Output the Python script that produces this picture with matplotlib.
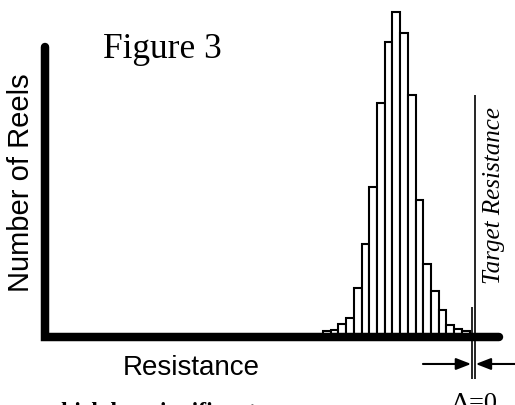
import numpy as np
import matplotlib
matplotlib.use("Agg")
import matplotlib.pyplot as plt

# Histogram of reel resistance (bin centres, arbitrary units) and counts
resistance_bins = [36.5, 37.5, 38.5, 39.5, 40.5, 41.5, 42.5, 43.5, 44.5, 45.5,
                   46.5, 47.5, 48.5, 49.5, 50.5, 51.5, 52.5, 53.5, 54.5]
reel_counts = [6, 7.5, 13.5, 19.5, 49, 93, 150, 234, 296, 326,
               305, 242, 137, 73, 46, 27.5, 12, 8, 6]

target_resistance = 55.7   # thin "Target Resistance" line
upper_edge = 55.25         # edge of the distribution, offset shown as delta

title_text = "Figure 3"
ylabel_text = "Number of Reels"
xlabel_text = "Resistance"
target_text = "Target Resistance"
delta_text = "\u0394=0"
body_text = "which has significant"


def plot_histogram():
    fig = plt.figure(figsize=(5.15, 4.06), dpi=100)
    ax = fig.add_axes([0.0874, 0.1663, 0.8806, 0.7167])
    ax.set_xlim(0, 58.75)
    ax.set_ylim(0, 291)
    ax.axis("off")

    # bars
    ax.bar(resistance_bins, reel_counts, width=1.0, color="white",
           edgecolor="black", linewidth=1.5, clip_on=False, zorder=1)

    # thick L-shaped axes with rounded ends
    ax.plot([0, 0, 1], [1, 0, 0], transform=ax.transAxes, color="black",
            lw=6.1, solid_capstyle="round", solid_joinstyle="miter",
            clip_on=False, zorder=3)

    # target line and distribution edge
    ax.vlines(target_resistance, -41.5, 242.5, color="black", lw=1.2,
              clip_on=False, zorder=4)
    ax.vlines(upper_edge, -41.5, 30.5, color="black", lw=1.2,
              clip_on=False, zorder=4)

    # arrows pointing at the gap
    arrow = dict(arrowstyle="-|>,head_length=0.9,head_width=0.35",
                 color="black", lw=1.5, shrinkA=0, shrinkB=0)
    ax.annotate("", xy=(upper_edge - 0.05, -26.5), xytext=(48.96, -26.5),
                arrowprops=arrow, annotation_clip=False)
    ax.annotate("", xy=(target_resistance + 0.1, -26.5), xytext=(61.0, -26.5),
                arrowprops=arrow, annotation_clip=False)

    # texts
    fig.text(103 / 515, 1 - 58.3 / 406, title_text, family="Liberation Serif",
             fontsize=25.5, ha="left", va="baseline")
    fig.text(21 / 515, 1 - 182.5 / 406, ylabel_text, family="Liberation Sans",
             fontsize=21, rotation=90, ha="center", va="center")
    fig.text(191 / 515, 1 - 375 / 406, xlabel_text, family="Liberation Sans",
             fontsize=20, ha="center", va="baseline")
    fig.text(494 / 515, 1 - 195.5 / 406, target_text, family="Liberation Serif",
             style="italic", fontsize=18, rotation=90, ha="center", va="center")
    fig.text(474.5 / 515, 1 - 410 / 406, delta_text, family="Liberation Serif",
             fontsize=19, ha="center", va="baseline")
    fig.text(44 / 515, 1 - 418 / 406, body_text, family="Liberation Serif",
             fontweight="bold", fontsize=17, ha="left", va="baseline")

    fig.savefig("out.png", dpi=100)


if __name__ == "__main__":
    plot_histogram()
